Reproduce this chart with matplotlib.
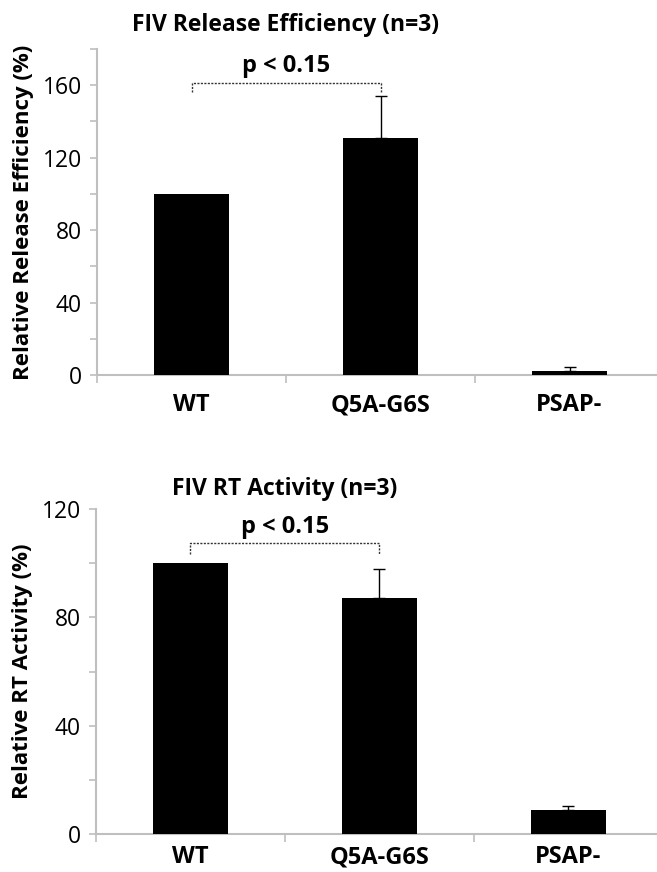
import matplotlib.pyplot as plt
import numpy as np

# data
categories = ['WT', 'Q5A-G6S', 'PSAP-']
release = [100, 131, 2]
release_err = [0, 23, 2.5]
rt = [100, 87, 9]
rt_err = [0, 11, 1.5]

plt.rcParams['font.family'] = ['Open Sans', 'DejaVu Sans']

W, H = 657, 872
fig = plt.figure(figsize=(W / 100, H / 100), dpi=100)

grey = '#bfbfbf'


def px_axes(left, top, right, bottom):
    return fig.add_axes([left / W, 1 - bottom / H, (right - left) / W, (bottom - top) / H])


def draw_panel(ax, vals, errs, ymax, title, ylabel, bracket_y, leg_y, p_y, title_y, xpad):
    x = np.arange(len(categories))
    ax.bar(x, vals, width=0.4, color='black', zorder=3)
    # upward error bars only where there is an error
    has = np.array(errs) > 0
    ax.errorbar(x[has], np.array(vals)[has],
                yerr=[np.zeros(has.sum()), np.array(errs)[has]], fmt='none',
                ecolor='black', elinewidth=1, capsize=4, capthick=1, zorder=4)
    ax.set_xlim(-0.5, len(categories) - 0.5)
    ax.set_ylim(0, ymax)

    # y axis: tick marks every 20, labels every 40
    ax.set_yticks(np.arange(0, ymax + 1, 20))
    ax.set_yticklabels([str(v) if v % 40 == 0 else '' for v in range(0, ymax + 1, 20)])
    ax.tick_params(axis='y', length=5, width=1.2, color=grey, labelsize=16.5, pad=6)

    # x axis: ticks between categories
    ax.set_xticks(x)
    ax.set_xticklabels(categories, fontweight='bold', fontsize=17)
    ax.set_xticks(np.arange(-0.5, len(categories) + 0.5, 1), minor=True)
    ax.tick_params(axis='x', which='major', length=0, pad=xpad)
    ax.tick_params(axis='x', which='minor', length=6, width=1.2, color=grey)

    for s in ['top', 'right']:
        ax.spines[s].set_visible(False)
    for s in ['left', 'bottom']:
        ax.spines[s].set_color(grey)
        ax.spines[s].set_linewidth(1.5)

    ax.set_ylabel(ylabel, fontweight='bold', fontsize=16, labelpad=6)

    # significance bracket
    ax.plot([0, 0, 1, 1], [leg_y, bracket_y, bracket_y, leg_y], color='#333333',
            linestyle=(0, (1.5, 1)), linewidth=1, clip_on=False, zorder=5)
    ax.text(0.5, p_y, 'p < 0.15', ha='center', va='center', fontweight='bold', fontsize=17)
    ax.text(0.5, title_y, title, ha='center', va='center', fontweight='bold',
            fontsize=16.5, clip_on=False)


ax1 = px_axes(97, 49, 664, 375)
draw_panel(ax1, release, release_err, 180,
           'FIV Release Efficiency (n=3)', 'Relative Release Efficiency (%)',
           161.5, 156, 170.5, 193, 13)

ax2 = px_axes(96, 509, 663, 834)
draw_panel(ax2, rt, rt_err, 120,
           'FIV RT Activity (n=3)', 'Relative RT Activity (%)',
           107.5, 103.5, 113.5, 127.5, 8)

fig.savefig('out.png', dpi=100)
